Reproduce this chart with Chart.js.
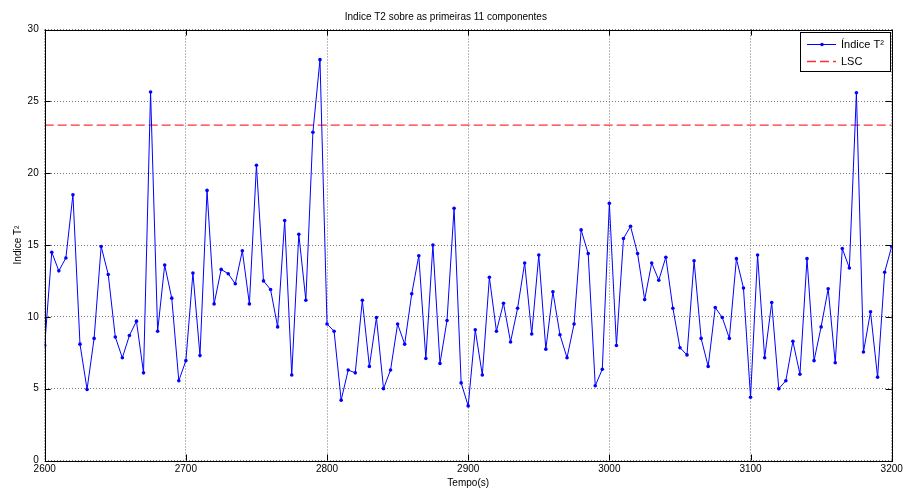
<!DOCTYPE html>
<html>
<head>
<meta charset="utf-8">
<script src="https://cdn.jsdelivr.net/npm/chart.js@4.4.0/dist/chart.umd.min.js"></script>
<style>
html, body { margin: 0; padding: 0; background: #fff; }
</style>
</head>
<body>
<canvas id="t2Chart" width="903" height="490"></canvas>
<script>
// tempo (s) e valores do índice T2
var tempo = [
    2600, 2605, 2610, 2615, 2620, 2625, 2630, 2635, 2640, 2645,
    2650, 2655, 2660, 2665, 2670, 2675, 2680, 2685, 2690, 2695,
    2700, 2705, 2710, 2715, 2720, 2725, 2730, 2735, 2740, 2745,
    2750, 2755, 2760, 2765, 2770, 2775, 2780, 2785, 2790, 2795,
    2800, 2805, 2810, 2815, 2820, 2825, 2830, 2835, 2840, 2845,
    2850, 2855, 2860, 2865, 2870, 2875, 2880, 2885, 2890, 2895,
    2900, 2905, 2910, 2915, 2920, 2925, 2930, 2935, 2940, 2945,
    2950, 2955, 2960, 2965, 2970, 2975, 2980, 2985, 2990, 2995,
    3000, 3005, 3010, 3015, 3020, 3025, 3030, 3035, 3040, 3045,
    3050, 3055, 3060, 3065, 3070, 3075, 3080, 3085, 3090, 3095,
    3100, 3105, 3110, 3115, 3120, 3125, 3130, 3135, 3140, 3145,
    3150, 3155, 3160, 3165, 3170, 3175, 3180, 3185, 3190, 3195,
    3200
];

var indiceT2 = [
    8.0, 14.5, 13.2, 14.1, 18.5, 8.1, 4.95, 8.5, 14.9, 12.95,
    8.6, 7.15, 8.7, 9.7, 6.1, 25.65, 9.0, 13.6, 11.3, 5.55,
    6.95, 13.05, 7.3, 18.8, 10.9, 13.3, 13.0, 12.3, 14.6, 10.9,
    20.55, 12.5, 11.9, 9.3, 16.7, 5.95, 15.75, 11.15, 22.85, 27.9,
    9.5, 9.0, 4.2, 6.3, 6.1, 11.15, 6.55, 9.95, 5.0, 6.3,
    9.5, 8.1, 11.6, 14.25, 7.1, 15.0, 6.75, 9.75, 17.55, 5.4,
    3.8, 9.1, 5.95, 12.75, 9.0, 10.95, 8.25, 10.6, 13.75, 8.8,
    14.3, 7.75, 11.75, 8.75, 7.15, 9.5, 16.05, 14.4, 5.2, 6.35,
    17.9, 8.0, 15.45, 16.3, 14.4, 11.2, 13.75, 12.55, 14.15, 10.6,
    7.85, 7.35, 13.9, 8.5, 6.55, 10.65, 9.95, 8.5, 14.05, 12.0,
    4.4, 14.3, 7.15, 11.0, 5.0, 5.55, 8.3, 6.0, 14.05, 6.95,
    9.3, 11.95, 6.8, 14.75, 13.4, 25.6, 7.55, 10.35, 5.8, 13.1,
    14.9
];

var limiteLSC = 23.35;
var limiteTempo = [2600, 3200];

var xTicks = [2600, 2700, 2800, 2900, 3000, 3100, 3200];
var yTicks = [0, 5, 10, 15, 20, 25, 30];

var fonte = "'Liberation Sans Narrow', 'Liberation Sans', Arial, sans-serif";

var serieT2 = tempo.map(function (t, i) { return { x: t, y: indiceT2[i] }; });
var serieLSC = limiteTempo.map(function (t) { return { x: t, y: limiteLSC }; });

// moldura da área, ticks para dentro e legenda dentro do gráfico
var molduraPlugin = {
    id: 'moldura',
    afterDatasetsDraw: function (chart) {
        var ctx = chart.ctx;
        var a = chart.chartArea;
        var xs = chart.scales.x, ys = chart.scales.y;
        ctx.save();
        ctx.strokeStyle = '#000';
        ctx.lineWidth = 1;
        ctx.setLineDash([]);
        ctx.beginPath();
        xTicks.forEach(function (v) {
            var px = Math.round(xs.getPixelForValue(v)) + 0.5;
            ctx.moveTo(px, a.bottom); ctx.lineTo(px, a.bottom - 6);
            ctx.moveTo(px, a.top); ctx.lineTo(px, a.top + 6);
        });
        yTicks.forEach(function (v) {
            var py = Math.round(ys.getPixelForValue(v)) + 0.5;
            ctx.moveTo(a.left, py); ctx.lineTo(a.left + 6, py);
            ctx.moveTo(a.right, py); ctx.lineTo(a.right - 6, py);
        });
        ctx.stroke();
        ctx.strokeRect(Math.round(a.left) + 0.5, Math.round(a.top) + 0.5,
            Math.round(a.right - a.left), Math.round(a.bottom - a.top));
        ctx.restore();
    },
    afterDraw: function (chart) {
        var ctx = chart.ctx;
        var ds = chart.data.datasets;
        var bx = 800.5, by = 32.5, bw = 90, bh = 39;
        ctx.save();
        ctx.fillStyle = '#fff';
        ctx.fillRect(bx, by, bw, bh);
        ctx.strokeStyle = '#000';
        ctx.lineWidth = 1;
        ctx.strokeRect(bx, by, bw, bh);
        ctx.font = '11px ' + fonte;
        ctx.textBaseline = 'middle';
        ctx.fillStyle = '#000';
        var linhas = [44, 61];
        ds.forEach(function (d, i) {
            var y = linhas[i] + 0.5;
            ctx.strokeStyle = d.borderColor;
            ctx.lineWidth = d.borderWidth;
            ctx.setLineDash(d.borderDash || []);
            ctx.beginPath();
            ctx.moveTo(807, y);
            ctx.lineTo(836, y);
            ctx.stroke();
            if (d.pointRadius > 0) {
                ctx.fillStyle = d.pointBackgroundColor;
                ctx.beginPath();
                ctx.arc(822, y, d.pointRadius, 0, Math.PI * 2);
                ctx.fill();
            }
            ctx.fillStyle = '#000';
            ctx.fillText(d.label, 841, y);
        });
        ctx.restore();
    }
};

var ctxT2 = document.getElementById('t2Chart').getContext('2d');

var graficoT2 = new Chart(ctxT2, {
    type: 'line',
    data: {
        datasets: [{
            label: 'Índice T²',
            data: serieT2,
            borderColor: '#0000ff',
            backgroundColor: '#0000ff',
            pointBackgroundColor: '#0000ff',
            pointBorderColor: '#0000ff',
            borderWidth: 1,
            pointRadius: 1.8,
            pointBorderWidth: 0,
            tension: 0,
            fill: false
        }, {
            label: 'LSC',
            data: serieLSC,
            borderColor: '#ff3030',
            backgroundColor: '#ff3030',
            borderWidth: 1.3,
            borderDash: [9, 4],
            pointRadius: 0,
            fill: false
        }]
    },
    options: {
        responsive: false,
        animation: false,
        layout: { padding: { left: 0, right: 11.3, top: 0, bottom: 0 } },
        plugins: {
            legend: { display: false },
            tooltip: { enabled: false },
            title: {
                display: true,
                text: 'Indice T2 sobre as primeiras 11 componentes',
                color: '#000',
                font: { family: fonte, size: 10, weight: 'normal', lineHeight: 1.2 },
                padding: { top: 11, bottom: 6.5 }
            }
        },
        scales: {
            x: {
                type: 'linear',
                min: 2600,
                max: 3200,
                afterFit: function (scale) {
                    scale.height = 29.5;
                    scale.paddingLeft = 0;
                    scale.paddingRight = 0;
                },
                afterBuildTicks: function (scale) {
                    scale.ticks = xTicks.map(function (v) { return { value: v }; });
                },
                ticks: {
                    color: '#000',
                    padding: 3,
                    maxRotation: 0,
                    font: { family: fonte, size: 10 },
                    callback: function (v) { return String(v); }
                },
                grid: {
                    color: '#777',
                    drawTicks: false
                },
                border: { display: false, dash: [1, 2] },
                title: {
                    display: true,
                    text: 'Tempo(s)',
                    color: '#000',
                    font: { family: fonte, size: 10, lineHeight: 1.2 },
                    padding: { top: 0, bottom: 1 }
                }
            },
            y: {
                min: 0,
                max: 30,
                afterFit: function (scale) {
                    scale.width = 44.7;
                    scale.paddingTop = 0;
                    scale.paddingBottom = 0;
                },
                afterBuildTicks: function (scale) {
                    scale.ticks = yTicks.map(function (v) { return { value: v }; });
                },
                ticks: {
                    color: '#000',
                    padding: 6,
                    font: { family: fonte, size: 10 },
                    callback: function (v) { return String(v); }
                },
                grid: {
                    color: '#777',
                    drawTicks: false
                },
                border: { display: false, dash: [1, 2] },
                title: {
                    display: true,
                    text: 'Indice T²',
                    color: '#000',
                    font: { family: fonte, size: 10, lineHeight: 1.2 },
                    padding: { top: 12, bottom: 0 }
                }
            }
        }
    },
    plugins: [molduraPlugin]
});
</script>
</body>
</html>
